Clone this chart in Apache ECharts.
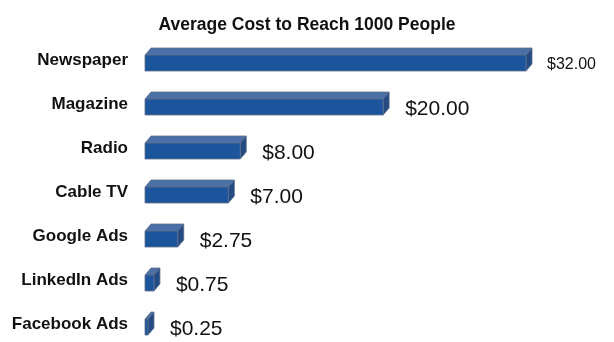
<!DOCTYPE html>
<html>
<head>
<meta charset="utf-8">
<script src="https://cdn.jsdelivr.net/npm/echarts@6/dist/echarts.min.js"></script>
<style>html,body{margin:0;padding:0;background:#fff;}#c{width:614px;height:342px;}</style>
</head>
<body>
<div id="c"></div>
<script>
const titleText = 'Average Cost to Reach 1000 People';
const categories = ['Newspaper', 'Magazine', 'Radio', 'Cable TV', 'Google Ads', 'LinkedIn Ads', 'Facebook Ads'];
const costs = [32.00, 20.00, 8.00, 7.00, 2.75, 0.75, 0.25];

const FONT = '"Liberation Sans", Arial, Helvetica, sans-serif';
const maxCost = Math.max.apply(null, costs);

const chart = echarts.init(document.getElementById('c'), null, {renderer: 'canvas'});

function renderBar(params, api) {
  const v = api.value(0);
  const idx = api.value(1);
  const p0 = api.coord([0, idx]);
  const p1 = api.coord([v, idx]);
  const x0 = p0[0], x1 = p1[0], c = p0[1];
  const top = c - 5, bot = c + 11;
  const dx = 6, dy = 7;
  const stroke = '#5d6f8c';
  const front = {type: 'rect', shape: {x: x0, y: top, width: Math.max(x1 - x0, 1), height: bot - top},
    style: {fill: '#1d559d', stroke: stroke, lineWidth: 0.8}};
  const topFace = {type: 'polygon', shape: {points: [[x0, top], [x0 + dx, top - dy], [x1 + dx, top - dy], [x1, top]]},
    style: {fill: '#4a70a6', stroke: stroke, lineWidth: 0.8}};
  const side = {type: 'polygon', shape: {points: [[x1, top], [x1 + dx, top - dy], [x1 + dx, bot - dy], [x1, bot]]},
    style: {fill: '#244b82', stroke: stroke, lineWidth: 0.8}};
  const isMax = v === maxCost;
  const label = {type: 'text', x: x1 + dx + (isMax ? 15 : 16), y: c + 5,
    style: {text: '$' + v.toFixed(2), fill: '#111', font: (isMax ? '16px ' : '21px ') + FONT,
      textAlign: 'left', textVerticalAlign: 'middle'}};
  return {type: 'group', children: [topFace, side, front, label]};
}

chart.setOption({
  animation: false,
  backgroundColor: '#ffffff',
  title: {
    text: titleText, left: 'center', top: 11,
    textStyle: {fontFamily: FONT, fontSize: 17.5, fontWeight: 'bold', color: '#111'}
  },
  grid: {left: 145, right: 88, top: 60, bottom: 18, containLabel: false},
  xAxis: {type: 'value', min: 0, max: 32, show: false},
  yAxis: {
    type: 'category', data: categories, inverse: true, boundaryGap: false,
    axisLine: {show: false}, axisTick: {show: false}, splitLine: {show: false},
    axisLabel: {margin: 17, fontFamily: FONT, fontSize: 17, fontWeight: 'bold', color: '#111'}
  },
  series: [{
    type: 'custom',
    renderItem: renderBar,
    encode: {x: 0, y: 1},
    data: costs.map((v, i) => [v, i]),
    clip: false
  }]
});
</script>
</body>
</html>
